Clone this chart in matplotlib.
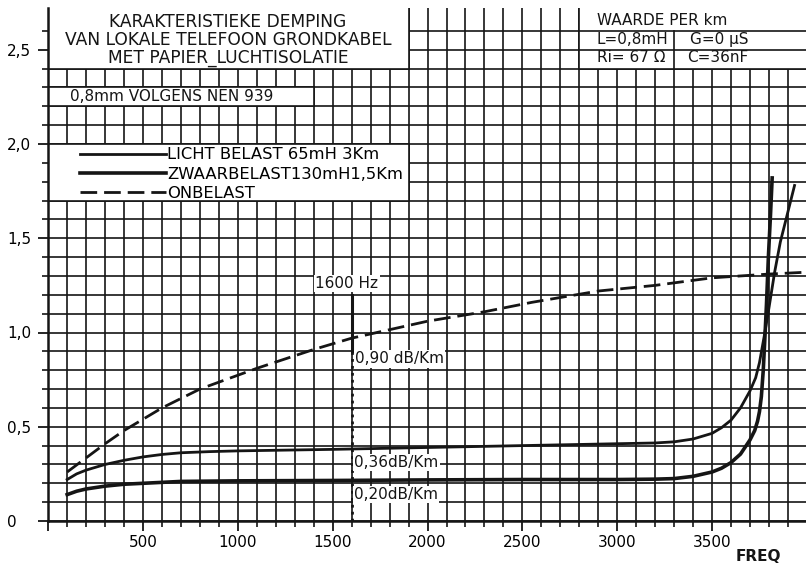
import matplotlib.pyplot as plt
from matplotlib.patches import Rectangle
import numpy as np

# karakteristieke demping
freq_onbelast = [100, 200, 300, 400, 500, 600, 800, 1100, 1400, 1600, 2000, 2300,
                 2550, 2900, 3200, 3500, 3800, 4000]
att_onbelast = [0.26, 0.335, 0.41, 0.48, 0.54, 0.60, 0.70, 0.81, 0.91, 0.97, 1.06, 1.11,
                1.16, 1.22, 1.25, 1.29, 1.31, 1.32]

freq_licht = [100, 150, 200, 300, 400, 500, 600, 700, 850, 1000, 1500, 2000, 2500, 3000,
              3200, 3300, 3400, 3500, 3550, 3600, 3650, 3700, 3730, 3750, 3775, 3800,
              3830, 3860, 3900, 3935]
att_licht = [0.22, 0.25, 0.27, 0.30, 0.322, 0.34, 0.353, 0.362, 0.368, 0.372, 0.38, 0.39,
             0.40, 0.41, 0.414, 0.42, 0.435, 0.465, 0.495, 0.535, 0.60, 0.69, 0.76, 0.84,
             0.98, 1.13, 1.32, 1.48, 1.64, 1.78]

freq_zwaar = [100, 150, 200, 300, 400, 500, 700, 1000, 1500, 2000, 2500, 3000, 3200, 3300,
              3400, 3500, 3550, 3600, 3650, 3700, 3725, 3740, 3750, 3760, 3770, 3778,
              3787, 3797, 3808, 3817]
att_zwaar = [0.14, 0.158, 0.17, 0.185, 0.195, 0.20, 0.21, 0.213, 0.215, 0.218, 0.22, 0.22,
             0.222, 0.225, 0.237, 0.26, 0.28, 0.31, 0.355, 0.43, 0.48, 0.53, 0.58, 0.66,
             0.80, 0.96, 1.15, 1.4, 1.62, 1.82]

legend_labels = ["LICHT BELAST 65mH 3Km", "ZWAARBELAST130mH1,5Km", "ONBELAST"]
x_ticks = [0, 500, 1000, 1500, 2000, 2500, 3000, 3500]
x_ticklabels = ["", "500", "1000", "1500", "2000", "2500", "3000", "3500"]
y_ticks = [0, 0.5, 1.0, 1.5, 2.0, 2.5]
y_ticklabels = ["0", "0,5", "1,0", "1,5", "2,0", "2,5"]

title_lines = ["KARAKTERISTIEKE DEMPING", "VAN LOKALE TELEFOON GRONDKABEL",
               "MET PAPIER_LUCHTISOLATIE"]

INK = "#151515"
plt.rcParams['font.family'] = ['DejaVu Sans']

fig = plt.figure(figsize=(8.06, 5.64), dpi=100)
ax = fig.add_axes([48.2 / 806, 43 / 564, 4000 * 0.18967 / 806, 2.72 * 188.5 / 564])
ax.set_xlim(0, 4000)
ax.set_ylim(0, 2.72)

# ruitjespapier
ax.set_xticks(x_ticks)
ax.set_xticklabels(x_ticklabels, fontsize=11)
ax.set_xticks(np.arange(100, 4001, 100), minor=True)
ax.set_yticks(y_ticks)
ax.set_yticklabels(y_ticklabels, fontsize=11)
ax.set_yticks(np.arange(0.1, 2.65, 0.1), minor=True)
ax.grid(which='both', color=INK, lw=1.2)
ax.set_axisbelow(True)
ax.tick_params(which='major', length=7, width=1.3, color=INK)
ax.tick_params(which='minor', length=4, width=1.2, color=INK)
ax.tick_params(axis='x', pad=3)
ax.tick_params(axis='y', pad=22.5)
for lab in ax.get_yticklabels():
    lab.set_horizontalalignment('left')
for s in ['top', 'right']:
    ax.spines[s].set_visible(False)
for s in ['left', 'bottom']:
    ax.spines[s].set_linewidth(1.8)
    ax.spines[s].set_color(INK)

# witte vakken voor de teksten
for (x0, y0, w, h) in [(0, 2.4, 1900, 0.5), (2800, 2.4, 1300, 0.5),
                       (0, 2.2, 1400, 0.1), (0, 1.7, 1900, 0.3)]:
    ax.add_patch(Rectangle((x0, y0), w, h, fc='white', ec=INK, lw=1.2, zorder=1))
ax.plot([2800, 4000], [2.5, 2.5], color=INK, lw=1.2, zorder=1.1)
ax.plot([2800, 4000], [2.6, 2.6], color=INK, lw=1.2, zorder=1.1)
ax.plot([3300, 3300], [2.4, 2.6], color=INK, lw=1.2, zorder=1.1)

# curves
l_licht, = ax.plot(freq_licht, att_licht, color=INK, lw=2.0, zorder=3)
l_zwaar, = ax.plot(freq_zwaar, att_zwaar, color=INK, lw=2.6, zorder=3)
l_onb, = ax.plot(freq_onbelast, att_onbelast, color=INK, lw=2.0, dashes=(6, 2.5), zorder=3)

ax.legend([l_licht, l_zwaar, l_onb], legend_labels, loc='upper left',
          bbox_to_anchor=(153, 2.0), bbox_transform=ax.transData, borderaxespad=0,
          borderpad=0.2, frameon=False, fontsize=11.8, handlelength=5.2,
          handletextpad=0.1, labelspacing=0.26)

# titel en gegevens
for i, t in enumerate(title_lines):
    ax.text(948, 2.647 - i * 0.0955, t, ha='center', va='center', fontsize=12.3,
            color=INK, zorder=4)
ax.text(115, 2.25, "0,8mm VOLGENS NEN 939", ha='left', va='center', fontsize=11,
        color=INK, zorder=4)
ax.text(2893, 2.653, "WAARDE PER km", ha='left', va='center', fontsize=11, color=INK, zorder=4)
ax.text(2893, 2.555, "L=0,8mH", ha='left', va='center', fontsize=11, color=INK, zorder=4)
ax.text(3384, 2.555, "G=0 μS", ha='left', va='center', fontsize=11, color=INK, zorder=4)
ax.text(2893, 2.458, "Ri= 67 Ω", ha='left', va='center', fontsize=11, color=INK, zorder=4)
ax.text(3368, 2.458, "C=36nF", ha='left', va='center', fontsize=11, color=INK, zorder=4)

# markering bij 1600 Hz
ax.plot([1600, 1600], [0.9, 1.2], color=INK, lw=2.2, zorder=2.5)
ax.plot([1600, 1600], [0.0, 0.9], color=INK, lw=2.0, ls=(0, (1, 1.5)), zorder=2.5)
box = dict(fc='white', ec='none', pad=1)
ax.text(1408, 1.26, "1600 Hz", ha='left', va='center', fontsize=11, color=INK, bbox=box, zorder=4)
ax.text(1617, 0.86, "0,90 dB/Km", ha='left', va='center', fontsize=11, color=INK, bbox=box, zorder=4)
ax.text(1612, 0.31, "0,36dB/Km", ha='left', va='center', fontsize=11, color=INK, bbox=box, zorder=4)
ax.text(1612, 0.14, "0,20dB/Km", ha='left', va='center', fontsize=11, color=INK, bbox=box, zorder=4)

ax.text(3742, -0.186, "FREQ", ha='center', va='center', fontsize=11, fontweight='bold',
        color=INK, clip_on=False)

fig.savefig("out.png", dpi=100)
